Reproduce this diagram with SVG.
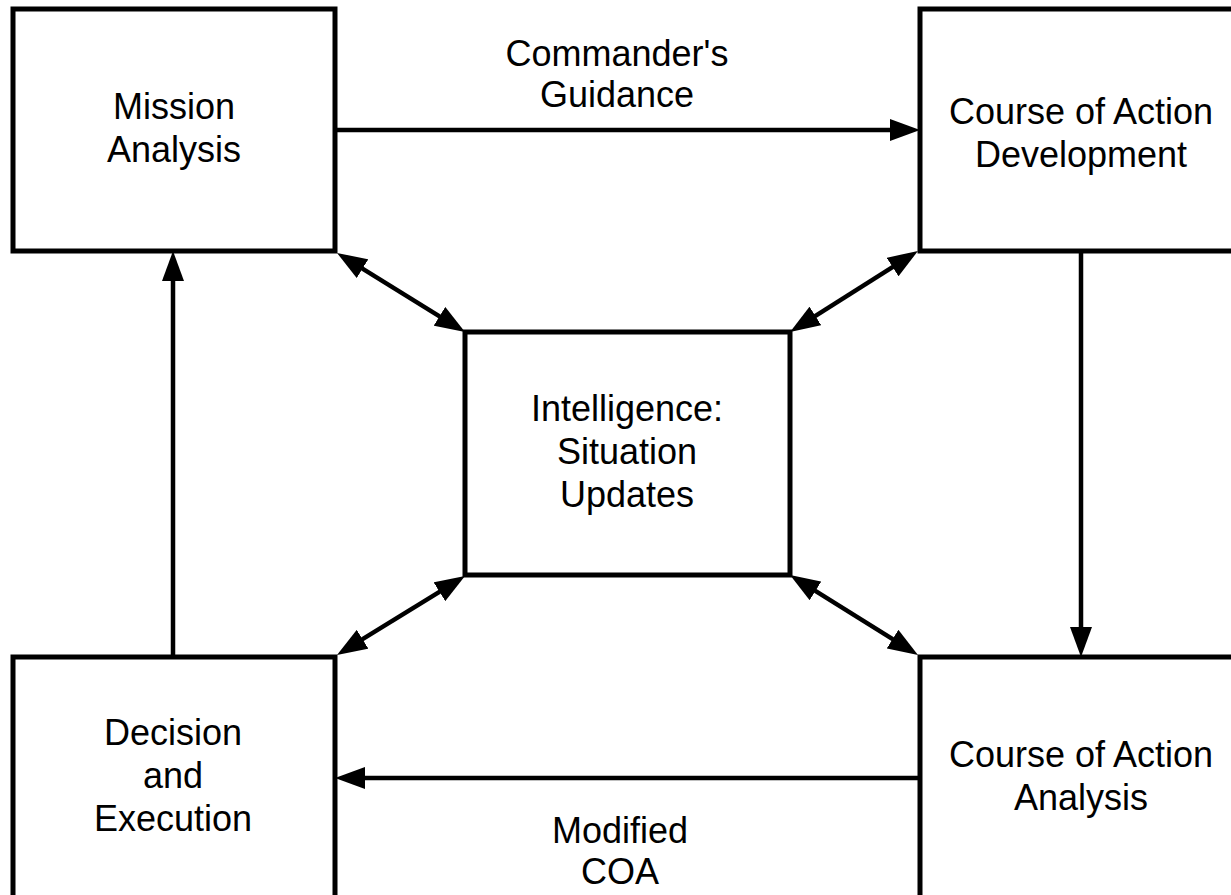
<svg xmlns="http://www.w3.org/2000/svg" width="1231" height="895" viewBox="0 0 1231 895">
<style>
.box{fill:#fff;stroke:#000;stroke-width:5}
.t{font-family:"Liberation Sans",Arial,sans-serif;font-size:36px;fill:#000;text-anchor:middle}
.c{fill:none;stroke:#000;stroke-width:4.5}
</style>
<defs>
<marker id="ah" viewBox="0 0 30 22" refX="20" refY="11" markerWidth="30" markerHeight="22" markerUnits="userSpaceOnUse" orient="auto-start-reverse">
<path d="M0,0 L30,11 L0,22 z" fill="#000"/>
</marker>
</defs>
<rect width="1231" height="895" fill="#fff"/>
<g id="connectors">
<path class="c" d="M337,130 H910" marker-end="url(#ah)"/>
<path class="c" d="M1081,251 V647" marker-end="url(#ah)"/>
<path class="c" d="M920,778 H345" marker-end="url(#ah)"/>
<path class="c" d="M173,657 V261" marker-end="url(#ah)"/>
<path class="c" d="M345.5,258.2 L456.5,326.8" marker-start="url(#ah)" marker-end="url(#ah)"/>
<path class="c" d="M909.5,256.3 L798.5,326.7" marker-start="url(#ah)" marker-end="url(#ah)"/>
<path class="c" d="M456.5,581.3 L345.5,649.7" marker-start="url(#ah)" marker-end="url(#ah)"/>
<path class="c" d="M798.5,580.3 L909.5,649.7" marker-start="url(#ah)" marker-end="url(#ah)"/>
</g>
<g id="label-guidance">
<text class="t" x="617" y="66">Commander's</text>
<text class="t" x="617" y="107">Guidance</text>
</g>
<g id="label-modified">
<text class="t" x="620" y="843">Modified</text>
<text class="t" x="620" y="884">COA</text>
</g>
<g id="mission">
<rect class="box" x="13" y="9" width="322" height="242"/>
<text class="t" x="174" y="119">Mission</text>
<text class="t" x="174" y="162">Analysis</text>
</g>
<g id="coa-dev">
<rect class="box" x="920" y="9" width="322" height="242"/>
<text class="t" x="1081" y="124">Course of Action</text>
<text class="t" x="1081" y="167">Development</text>
</g>
<g id="intel">
<rect class="box" x="465" y="332" width="325" height="243"/>
<text class="t" x="627" y="421">Intelligence:</text>
<text class="t" x="627" y="464">Situation</text>
<text class="t" x="627" y="507">Updates</text>
</g>
<g id="decision">
<rect class="box" x="13" y="657" width="322" height="250"/>
<text class="t" x="173" y="745">Decision</text>
<text class="t" x="173" y="788">and</text>
<text class="t" x="173" y="831">Execution</text>
</g>
<g id="coa-analysis">
<rect class="box" x="920" y="657" width="322" height="250"/>
<text class="t" x="1081" y="767">Course of Action</text>
<text class="t" x="1081" y="810">Analysis</text>
</g>
</svg>
